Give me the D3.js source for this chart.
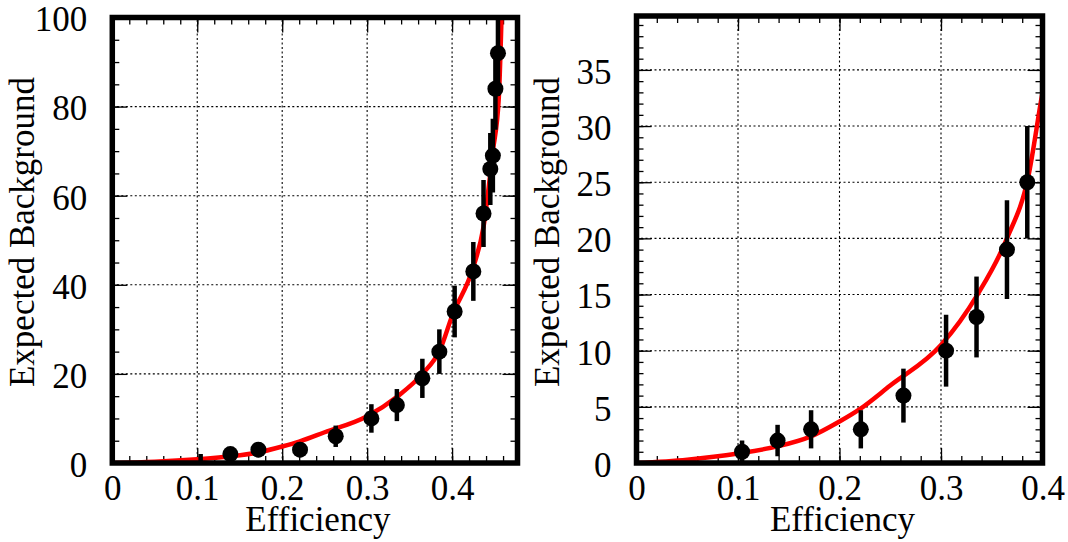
<!DOCTYPE html>
<html>
<head>
<meta charset="utf-8">
<script src="https://cdn.jsdelivr.net/npm/d3@7"></script>
<style>
  body { margin: 0; background: #fff; }
  .grid line { stroke: #000; stroke-width: 1.1; stroke-dasharray: 2,2.5; }
  .frame { fill: none; stroke: #000; stroke-width: 5.5; }
  .fit { fill: none; stroke: #ff0000; stroke-width: 4.5; }
  .err { stroke: #000; stroke-width: 4.5; }
</style>
</head>
<body>
<svg id="chart"></svg>
<script>
/* DATA */
// measured points (same set in both panels)
var effValues = [0.104, 0.139, 0.172, 0.221, 0.263, 0.305, 0.335, 0.365, 0.385, 0.403, 0.425, 0.437, 0.445, 0.448, 0.451, 0.454];
var bkgValues = [1, 2, 3, 3, 6, 10, 13, 19, 25, 34, 43, 56, 66, 69, 84, 92];
var bkgErrors = [1, 1.4, 1.7, 1.7, 2.4, 3.2, 3.6, 4.4, 5, 5.8, 6.6, 7.5, 8.1, 8.3, 9.2, 9.6];
// left panel shows no marker on the first point, only its bar
var leftMarker = [false, true, true, true, true, true, true, true, true, true, true, true, true, true, true, true];
var rightMarker = [true, true, true, true, true, true, true, true, true, true, true, true, true, true, true, true];

// fitted curve
var fitEff = [0, 0.05, 0.1, 0.14, 0.17, 0.2, 0.22, 0.25, 0.3, 0.336, 0.365, 0.386, 0.4, 0.425, 0.437, 0.448, 0.455, 0.4585];
var fitBkg = [0, 0.3, 0.85, 1.5, 2.3, 3.7, 4.8, 6.9, 10.5, 15, 20, 25.5, 33, 44, 53, 70, 82, 102];

// ticks
var leftXTicks = [0, 0.1, 0.2, 0.3, 0.4];
var leftYTicks = [0, 20, 40, 60, 80, 100];
var rightXTicks = [0, 0.1, 0.2, 0.3, 0.4];
var rightYTicks = [0, 5, 10, 15, 20, 25, 30, 35];

var xTitle = "Efficiency";
var yTitle = "Expected Background";

/* SETUP */
var width = 1068;
var height = 542;
var fontFamily = "'Liberation Serif', 'Times New Roman', Times, serif";
var fontSize = 35;
var majorLen = 15;
var minorLen = 7;
var markerR = 8;

var svg = d3.select("svg#chart")
  .attr("width", width)
  .attr("height", height)
  .attr("font-family", fontFamily);

var panels = [
  { id: "left", xDomain: [0, 0.477], xRange: [112.3, 517.5], yDomain: [0, 100], yRange: [463, 17.5],
    xTicks: leftXTicks, yTicks: leftYTicks, xMinor: 24, yMinor: 20, marker: leftMarker },
  { id: "right", xDomain: [0, 0.4], xRange: [636.5, 1042.5], yDomain: [0, 39.8], yRange: [463, 16],
    xTicks: rightXTicks, yTicks: rightYTicks, xMinor: 20, yMinor: 40, marker: rightMarker }
];

var points = effValues.map(function(e, i) {
  return { x: e, y: bkgValues[i], err: bkgErrors[i], i: i };
});
var fitPoints = fitEff.map(function(e, i) { return { x: e, y: fitBkg[i] }; });

panels.forEach(drawPanel);

/* DRAW ONE PANEL */
function drawPanel(p) {
  var x = d3.scaleLinear().domain(p.xDomain).range(p.xRange);
  var y = d3.scaleLinear().domain(p.yDomain).range(p.yRange);
  var x0 = p.xRange[0], x1 = p.xRange[1], y0 = p.yRange[0], y1 = p.yRange[1];

  var g = svg.append("g").attr("id", p.id);

  g.append("clipPath").attr("id", "clip-" + p.id)
    .append("rect")
    .attr("x", x0).attr("y", y1)
    .attr("width", x1 - x0).attr("height", y0 - y1);

  // dotted grid at the major ticks
  var grid = g.append("g").attr("class", "grid");
  grid.selectAll("line.vx")
    .data(p.xTicks.filter(function(t) { return x(t) > x0 + 1 && x(t) < x1 - 1; }))
    .enter().append("line")
    .attr("x1", d => x(d)).attr("x2", d => x(d))
    .attr("y1", y0).attr("y2", y1);
  grid.selectAll("line.hy")
    .data(p.yTicks.filter(function(t) { return y(t) < y0 - 1 && y(t) > y1 + 1; }))
    .enter().append("line")
    .attr("x1", x0).attr("x2", x1)
    .attr("y1", d => y(d)).attr("y2", d => y(d));

  // ticks on all four sides, pointing inwards
  var minorX = x.ticks(p.xMinor), minorY = y.ticks(p.yMinor);
  addAxis(g, d3.axisBottom(x).tickValues(minorX).tickSize(-minorLen).tickFormat(""), translate(0, y0));
  addAxis(g, d3.axisTop(x).tickValues(minorX).tickSize(-minorLen).tickFormat(""), translate(0, y1));
  addAxis(g, d3.axisLeft(y).tickValues(minorY).tickSize(-minorLen).tickFormat(""), translate(x0, 0));
  addAxis(g, d3.axisRight(y).tickValues(minorY).tickSize(-minorLen).tickFormat(""), translate(x1, 0));

  addAxis(g, d3.axisBottom(x).tickValues(p.xTicks).tickSize(-majorLen).tickPadding(12)
    .tickFormat(d3.format("~g")), translate(0, y0));
  addAxis(g, d3.axisTop(x).tickValues(p.xTicks).tickSize(-majorLen).tickFormat(""), translate(0, y1));
  var yAxis = addAxis(g, d3.axisLeft(y).tickValues(p.yTicks).tickSize(-majorLen).tickPadding(25)
    .tickFormat(d3.format("~g")), translate(x0, 0));
  yAxis.selectAll(".tick text").attr("dy", "0.38em");
  addAxis(g, d3.axisRight(y).tickValues(p.yTicks).tickSize(-majorLen).tickFormat(""), translate(x1, 0));

  // fit curve
  var line = d3.line()
    .x(d => x(d.x))
    .y(d => y(d.y))
    .curve(d3.curveMonotoneX);
  g.append("path")
    .datum(fitPoints)
    .attr("class", "fit")
    .attr("clip-path", "url(#clip-" + p.id + ")")
    .attr("d", line);

  // error bars and markers
  var pts = g.append("g").attr("clip-path", "url(#clip-" + p.id + ")");
  var visible = points.filter(d => d.x <= p.xDomain[1]);
  pts.selectAll("line.err")
    .data(visible)
    .enter().append("line")
    .attr("class", "err")
    .attr("x1", d => x(d.x)).attr("x2", d => x(d.x))
    .attr("y1", d => y(Math.max(0, d.y - d.err)))
    .attr("y2", d => y(d.y + d.err));
  pts.selectAll("circle")
    .data(visible.filter(d => p.marker[d.i]))
    .enter().append("circle")
    .attr("cx", d => x(d.x))
    .attr("cy", d => y(d.y))
    .attr("r", markerR)
    .attr("fill", "#000");

  // frame
  g.append("rect")
    .attr("class", "frame")
    .attr("x", x0).attr("y", y1)
    .attr("width", x1 - x0).attr("height", y0 - y1);

  // titles
  g.append("text")
    .attr("x", (x0 + x1) / 2 + 3)
    .attr("y", 531)
    .attr("text-anchor", "middle")
    .attr("font-size", fontSize)
    .text(xTitle);

  g.append("text")
    .attr("transform", translate(x0 - 78, 77) + " rotate(-90)")
    .attr("text-anchor", "end")
    .attr("font-size", fontSize)
    .text(yTitle);
}

/* AXIS HELPER */
function addAxis(g, axis, transform) {
  var a = g.append("g")
    .attr("transform", transform)
    .call(axis);
  a.select(".domain").remove();
  a.attr("font-family", fontFamily).attr("font-size", fontSize);
  a.selectAll(".tick line").attr("stroke", "#000").attr("stroke-width", 1.3);
  a.selectAll(".tick text").attr("fill", "#000");
  return a;
}

/* HELPER FUNCTION */
function translate(x, y) {
  return "translate(" + String(x) + "," + String(y) + ")";
}
</script>
</body>
</html>
